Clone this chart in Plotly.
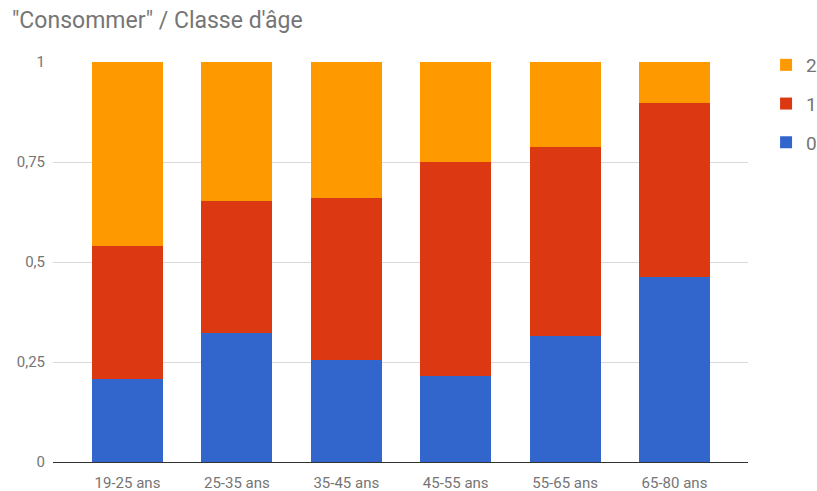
import plotly.graph_objects as go

# Share of answers per age class for "Consommer"
age_classes = ["19-25 ans", "25-35 ans", "35-45 ans", "45-55 ans", "55-65 ans", "65-80 ans"]
share_0 = [0.207, 0.323, 0.255, 0.215, 0.315, 0.463]
share_1 = [0.333, 0.330, 0.405, 0.535, 0.473, 0.435]
share_2 = [0.460, 0.347, 0.340, 0.250, 0.212, 0.102]

y_ticks = [0, 0.25, 0.5, 0.75, 1]
y_tick_labels = ["0", "0,25", "0,5", "0,75", "1"]

# (name, values, colour, legend rank) - stacked bottom to top, listed top to bottom
series = [
    ("0", share_0, "#3366CC", 3),
    ("1", share_1, "#DC3912", 2),
    ("2", share_2, "#FF9900", 1),
]

grey = "#757575"
font_family = "Roboto, Arial, sans-serif"

fig = go.Figure()
for name, values, color, rank in series:
    fig.add_trace(go.Bar(
        x=list(range(len(age_classes))),
        y=values,
        name=name,
        legendgroup=name,
        legendrank=rank,
        marker=dict(color=color, line=dict(width=0)),
        width=0.65,
    ))

fig.update_layout(
    width=817,
    height=491,
    barmode="stack",
    paper_bgcolor="white",
    plot_bgcolor="white",
    margin=dict(l=53, r=69, t=62, b=29, autoexpand=False),
    title=dict(
        text="\"Consommer\" / Classe d'âge",
        x=12 / 817, xanchor="left",
        y=1 - 20 / 491, yanchor="middle",
        font=dict(family=font_family, size=23, color=grey),
    ),
    font=dict(family=font_family, size=15, color=grey),
    legend=dict(
        traceorder="grouped",
        tracegroupgap=11,
        x=1.026, xanchor="left",
        y=1.04, yanchor="top",
        font=dict(size=19, color=grey),
        itemwidth=30,
    ),
    showlegend=True,
)

fig.update_xaxes(
    tickmode="array",
    tickvals=list(range(len(age_classes))),
    ticktext=age_classes,
    range=[-0.681, 5.672],
    showgrid=False,
    showline=True,
    linecolor="#333333",
    linewidth=1,
    ticks="",
    automargin=False,
    ticklabelstandoff=7,
    tickfont=dict(size=15, color=grey),
)

fig.update_yaxes(
    range=[0, 1],
    tickmode="array",
    tickvals=y_ticks,
    ticktext=y_tick_labels,
    showgrid=True,
    gridcolor="#D9D9D9",
    gridwidth=1,
    zeroline=False,
    showline=False,
    ticks="",
    automargin=False,
    ticklabelstandoff=7,
    tickfont=dict(size=15, color=grey),
)

fig.write_html("out.html")
